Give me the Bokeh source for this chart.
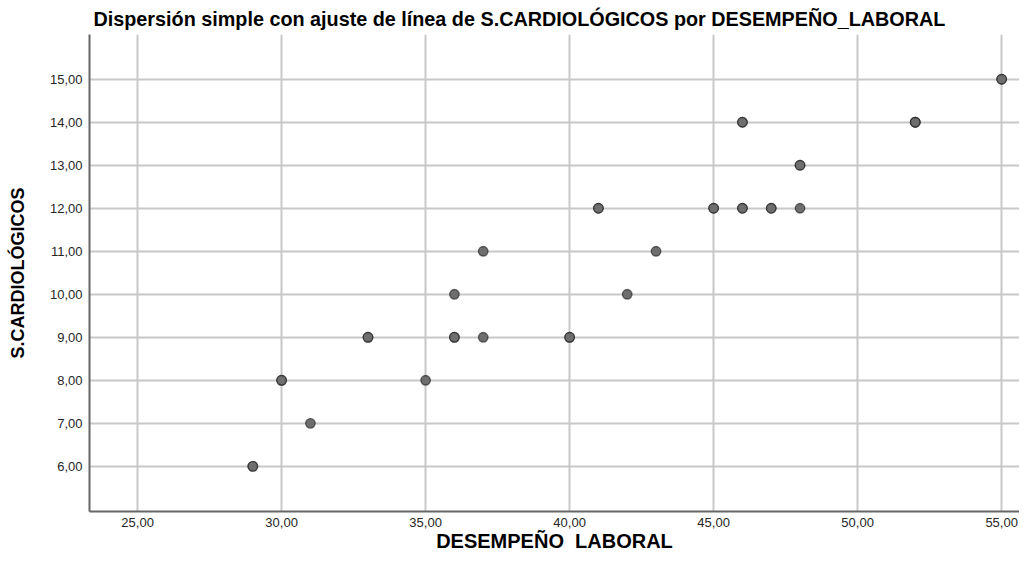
from bokeh.plotting import figure
from bokeh.models import Range1d, FixedTicker, CustomJSTickFormatter
from bokeh.embed import file_html
from bokeh.resources import INLINE

# Observations (duplicates listed repeatedly)
desempeno = [29, 29, 30, 30, 31, 33, 33, 35, 36, 36, 36, 37, 37, 40, 40,
             41, 41, 42, 43, 45, 45, 46, 46, 46, 46, 47, 47, 48, 48, 48,
             52, 52, 52, 55, 55]
cardio = [6, 6, 8, 8, 7, 9, 9, 8, 9, 9, 10, 9, 11, 9, 9,
          12, 12, 10, 11, 12, 12, 12, 12, 14, 14, 12, 12, 12, 13, 13,
          14, 14, 14, 15, 15]

x_ticks = [25, 30, 35, 40, 45, 50, 55]
y_ticks = [6, 7, 8, 9, 10, 11, 12, 13, 14, 15]

FONT = "Liberation Sans"

p = figure(width=1019, height=555, output_backend="svg", toolbar_location=None,
           x_range=Range1d(23.33, 55.62), y_range=Range1d(4.95, 16.04),
           min_border_left=89, min_border_right=0, min_border_top=34,
           min_border_bottom=44)
p.outline_line_color = None
p.background_fill_color = "white"
p.border_fill_color = "white"

p.title.text = "Dispersión simple con ajuste de línea de S.CARDIOLÓGICOS por DESEMPEÑO_LABORAL"
p.title.text_font = FONT
p.title.text_font_size = "19.8px"
p.title.text_font_style = "bold"
p.title.text_color = "#000000"
p.title.align = "left"
p.title.offset = 4
p.title.standoff = 10

fmt = CustomJSTickFormatter(code="return tick.toFixed(2).replace('.', ',');")

for ax, ticks in ((p.xaxis[0], x_ticks), (p.yaxis[0], y_ticks)):
    ax.ticker = FixedTicker(ticks=ticks)
    ax.formatter = fmt
    ax.major_tick_line_color = None
    ax.minor_tick_line_color = None
    ax.major_tick_out = 0
    ax.major_tick_in = 0
    ax.axis_line_color = "#666666"
    ax.axis_line_width = 2
    ax.major_label_text_font = FONT
    ax.major_label_text_font_size = "13px"
    ax.major_label_text_color = "#262626"
    ax.axis_label_text_font = FONT
    ax.axis_label_text_font_style = "bold"
    ax.axis_label_text_color = "#000000"

p.yaxis.axis_label = "S.CARDIOLÓGICOS"
p.yaxis.axis_label_text_font_size = "18px"
p.xaxis.axis_label = "DESEMPEÑO\u00a0\u00a0LABORAL"
p.xaxis.axis_label_text_font_size = "20px"
p.xaxis.major_label_standoff = 6
p.xaxis.axis_label_standoff = 0
p.yaxis.major_label_standoff = 7
p.yaxis.axis_label_standoff = 19

p.xgrid.ticker = FixedTicker(ticks=x_ticks)
p.ygrid.ticker = FixedTicker(ticks=y_ticks)
p.grid.grid_line_color = "#c8c8c8"
p.grid.grid_line_width = 2

p.scatter(desempeno, cardio, size=9.5, fill_color="#6e6e6e",
          line_color="#1a1a1a", line_width=1.4, line_alpha=0.6)

open("out.html", "w").write(file_html(p, INLINE))
